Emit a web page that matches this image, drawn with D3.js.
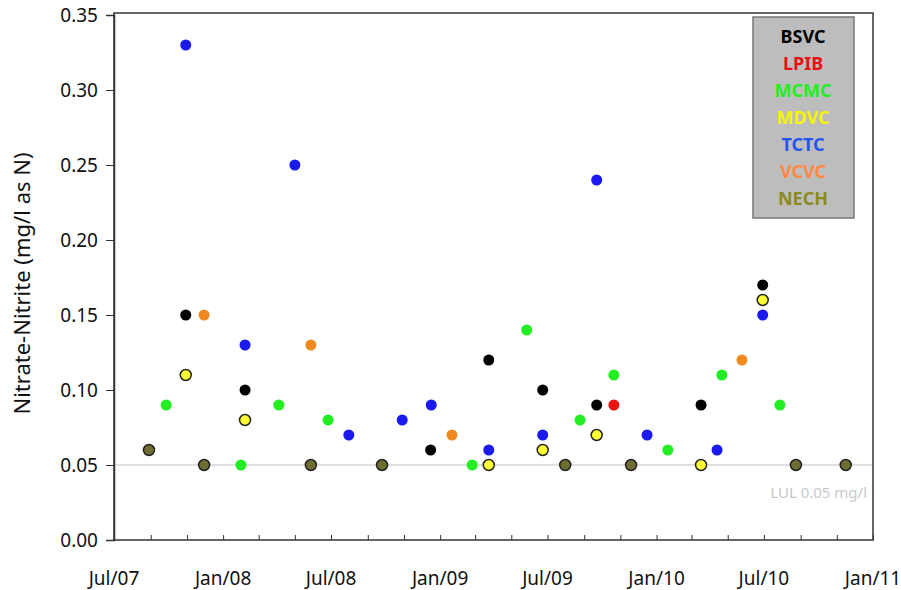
<!DOCTYPE html>
<html>
<head>
<meta charset="utf-8">
<script src="https://cdn.jsdelivr.net/npm/d3@7"></script>
<style>
  body { margin: 0; background: #fff; }
  text { font-family: "Comic Sans MS", "Noto Sans", "DejaVu Sans", sans-serif; }
</style>
</head>
<body>
<div id="chart"></div>
<script>
var svgSelector = "#chart";
var default_width = 901;
var default_height = 590;

// ---- data ----
var seriesNames = ["BSVC", "LPIB", "MCMC", "MDVC", "TCTC", "VCVC", "NECH"];

var bsvcDates  = ["2007-10-30", "2008-02-07", "2008-12-16", "2009-03-24", "2009-06-23", "2009-09-22", "2010-03-17", "2010-06-29"];
var bsvcValues = [0.15, 0.10, 0.06, 0.12, 0.10, 0.09, 0.09, 0.17];

var lpibDates  = ["2009-10-21"];
var lpibValues = [0.09];

var mcmcDates  = ["2007-09-27", "2008-01-31", "2008-04-04", "2008-06-26", "2009-02-24", "2009-05-27", "2009-08-25", "2009-10-21", "2010-01-20", "2010-04-21", "2010-07-28"];
var mcmcValues = [0.09, 0.05, 0.09, 0.08, 0.05, 0.14, 0.08, 0.11, 0.06, 0.11, 0.09];

var mdvcDates  = ["2007-10-30", "2008-02-07", "2009-03-24", "2009-06-23", "2009-09-22", "2010-03-17", "2010-06-29"];
var mdvcValues = [0.11, 0.08, 0.05, 0.06, 0.07, 0.05, 0.16];

var tctcDates  = ["2007-10-30", "2008-02-07", "2008-05-01", "2008-07-31", "2008-10-29", "2008-12-17", "2009-03-24", "2009-06-23", "2009-09-22", "2009-12-16", "2010-04-13", "2010-06-29"];
var tctcValues = [0.33, 0.13, 0.25, 0.07, 0.08, 0.09, 0.06, 0.07, 0.24, 0.07, 0.06, 0.15];

var vcvcDates  = ["2007-11-30", "2008-05-28", "2009-01-21", "2010-05-25"];
var vcvcValues = [0.15, 0.13, 0.07, 0.12];

var nechDates  = ["2007-08-29", "2007-11-30", "2008-05-28", "2008-09-25", "2009-07-31", "2009-11-19", "2010-08-24", "2010-11-16"];
var nechValues = [0.06, 0.05, 0.05, 0.05, 0.05, 0.05, 0.05, 0.05];

var yTicks = [0, 0.05, 0.10, 0.15, 0.20, 0.25, 0.30, 0.35];
var xLabelDates = ["2007-07-01", "2008-01-01", "2008-07-01", "2009-01-01", "2009-07-01", "2010-01-01", "2010-07-01", "2011-01-01"];
var lulValue = 0.05;
var lulLabel = "LUL 0.05 mg/l";
var yLabel = "Nitrate-Nitrite (mg/l as N)";

////////////////////////////////////////////////////////////////////////////////////////////////

var parseDate = d3.timeParse("%Y-%m-%d");

function makeSeries(name, dates, values, fill, stroke, legendColor) {
    return {
        name: name,
        fill: fill,
        stroke: stroke,
        legendColor: legendColor,
        points: dates.map(function(d, i) {
            return { date: parseDate(d), value: values[i] };
        })
    };
}

var series = [
    makeSeries("BSVC", bsvcDates, bsvcValues, "#000000", "none", "#000000"),
    makeSeries("LPIB", lpibDates, lpibValues, "#ee1111", "none", "#e81010"),
    makeSeries("MCMC", mcmcDates, mcmcValues, "#22ee22", "none", "#22ee22"),
    makeSeries("MDVC", mdvcDates, mdvcValues, "#ffff33", "#222222", "#f5f500"),
    makeSeries("TCTC", tctcDates, tctcValues, "#1a1aee", "none", "#2255ee"),
    makeSeries("VCVC", vcvcDates, vcvcValues, "#f08a20", "none", "#ff8844"),
    makeSeries("NECH", nechDates, nechValues, "#6e6e32", "#222222", "#8a8a20")
];

function drawChart(htmlSelector, w, h) {
    var svg = d3.select(htmlSelector).append("svg")
        .attr("width", w)
        .attr("height", h);

    var left = 114, right = 873, top = 15, bottom = 540;

    var x = d3.scaleTime()
        .domain([parseDate(xLabelDates[0]), parseDate(xLabelDates[xLabelDates.length - 1])])
        .range([left, right]);

    var y = d3.scaleLinear()
        .domain([0, 0.35])
        .range([bottom, top]);

    // LUL reference line
    svg.append("line")
        .attr("x1", left).attr("x2", right)
        .attr("y1", y(lulValue)).attr("y2", y(lulValue))
        .attr("stroke", "#d4d4d8")
        .attr("stroke-width", 1.5);

    svg.append("text")
        .attr("x", 867)
        .attr("y", y(lulValue) + 33)
        .attr("text-anchor", "end")
        .attr("font-size", 15)
        .attr("fill", "#c8c8cc")
        .text(lulLabel);

    // frame
    svg.append("rect")
        .attr("x", left).attr("y", top - 2)
        .attr("width", right - left).attr("height", bottom - top + 2)
        .attr("fill", "none")
        .attr("stroke", "#333")
        .attr("stroke-width", 1.5);

    // y axis
    var yAxis = svg.append("g")
        .attr("transform", "translate(" + left + ",0)")
        .call(d3.axisLeft(y).tickValues(yTicks).tickFormat(d3.format(".2f")).tickSize(8).tickPadding(8));
    yAxis.select(".domain").attr("stroke", "#333").attr("stroke-width", 1.5);
    yAxis.selectAll(".tick line").attr("stroke", "#333");
    yAxis.selectAll(".tick text")
        .attr("font-size", 19)
        .attr("fill", "#111")
        .style("font-family", "\"Comic Sans MS\", \"Noto Sans\", sans-serif");

    // x axis: small ticks every 2 months pointing inward, labels every 6 months
    var xAxis = svg.append("g")
        .attr("transform", "translate(0," + bottom + ")")
        .call(d3.axisBottom(x).ticks(d3.timeMonth.every(2)).tickSize(-5).tickFormat(""));
    xAxis.select(".domain").remove();
    xAxis.selectAll(".tick line").attr("stroke", "#333");

    svg.append("g")
        .selectAll("text")
        .data(xLabelDates)
        .enter().append("text")
            .attr("x", function(d) { return x(parseDate(d)); })
            .attr("y", 585)
            .attr("text-anchor", "middle")
            .attr("font-size", 19)
            .attr("fill", "#111")
            .text(function(d) { return d3.timeFormat("%b/%y")(parseDate(d)); });

    // y label
    svg.append("text")
        .attr("transform", "translate(30," + ((top + bottom) / 2 + 6) + ") rotate(-90)")
        .attr("text-anchor", "middle")
        .attr("font-size", 22)
        .attr("fill", "#111")
        .text(yLabel);

    // points
    series.forEach(function(s) {
        svg.append("g")
            .selectAll("circle")
            .data(s.points)
            .enter().append("circle")
                .attr("cx", function(d) { return x(d.date); })
                .attr("cy", function(d) { return y(d.value); })
                .attr("r", 5.5)
                .attr("fill", s.fill)
                .attr("stroke", s.stroke)
                .attr("stroke-width", 1.5);
    });

    // legend
    var legend = svg.append("g");
    legend.append("rect")
        .attr("x", 753).attr("y", 17)
        .attr("width", 101).attr("height", 201)
        .attr("fill", "#bdbdbd")
        .attr("stroke", "#777")
        .attr("stroke-width", 1.5);

    legend.selectAll("text")
        .data(series)
        .enter().append("text")
            .attr("x", 803)
            .attr("y", function(s, i) { return 43 + i * 27; })
            .attr("text-anchor", "middle")
            .attr("font-size", 18)
            .attr("font-weight", "bold")
            .attr("fill", function(s) { return s.legendColor; })
            .text(function(s) { return s.name; });
}

drawChart(svgSelector, default_width, default_height);
</script>
</body>
</html>
